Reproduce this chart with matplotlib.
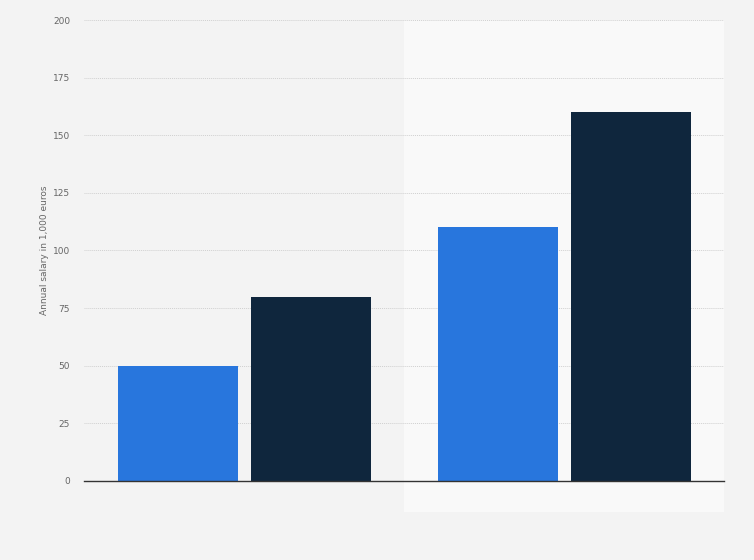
import matplotlib.pyplot as plt
from matplotlib.patches import Rectangle
import numpy as np

groups = ["Group 1", "Group 2"]
series_a = [50, 110]
series_b = [80, 160]
y_ticks = [0, 25, 50, 75, 100, 125, 150, 175, 200]

BG = "#f3f3f3"
fig = plt.figure(figsize=(7.54, 5.6), dpi=100, facecolor=BG)
ax = fig.add_axes([84 / 754, 79 / 560, 640 / 754, 461 / 560])
ax.set_facecolor("none")
ax.set_zorder(2)

# lighter band behind the second group, reaching a bit below the axis
fig.patches.append(Rectangle((404 / 754, 48 / 560), 320 / 754, 492 / 560,
                             transform=fig.transFigure, color="#f9f9f9",
                             lw=0, zorder=0))

x = np.arange(len(groups))
w = 0.375
ax.bar(x - 0.207, series_a, w, color="#2876dd", zorder=3)
ax.bar(x + 0.21, series_b, w, color="#0f263d", zorder=3)

ax.set_xlim(-0.5, 1.5)
ax.set_ylim(0, 200)
ax.set_yticks(y_ticks)
ax.set_yticklabels([str(t) for t in y_ticks], color="#666666", fontsize=6.5)
ax.set_xticks([])
ax.tick_params(axis="y", length=0, pad=10)
ax.yaxis.grid(True, color="#d0d0d0", linestyle=(0, (1, 1)), linewidth=0.7, zorder=1)

for s in ["top", "right", "left"]:
    ax.spines[s].set_visible(False)
ax.spines["bottom"].set_color("#333333")
ax.spines["bottom"].set_linewidth(1.0)
ax.spines["bottom"].set_zorder(4)

ax.set_ylabel("Annual salary in 1,000 euros", color="#666666", fontsize=6.5, labelpad=3)

fig.savefig("out.png", dpi=100, facecolor=BG)
